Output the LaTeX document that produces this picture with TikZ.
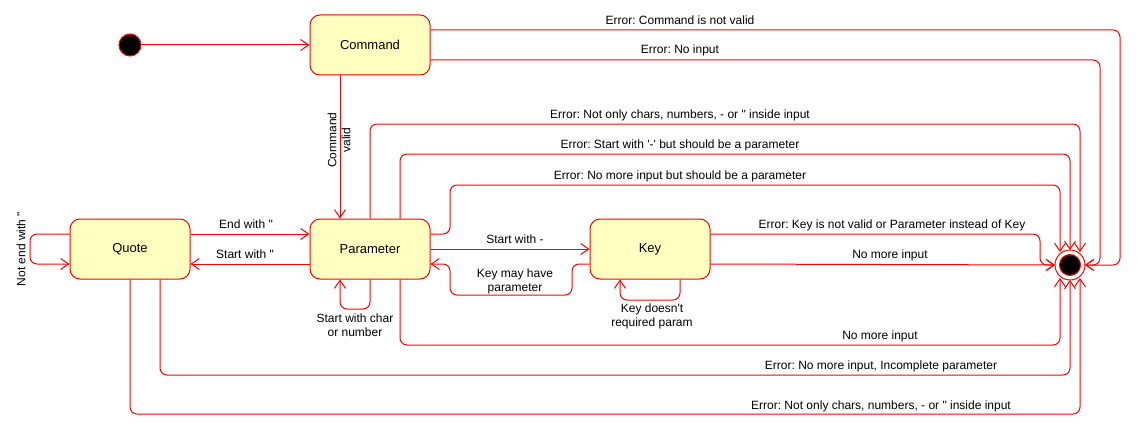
\documentclass[tikz,border=0pt]{standalone}
\usepackage{fontspec}
\setmainfont{Liberation Sans}
\setmonofont{Liberation Sans}
\usetikzlibrary{arrows.meta}
\definecolor{stfill}{HTML}{FFFFC0}
\definecolor{lred}{HTML}{FF0000}
\newcommand\dq{{\ttfamily\symbol{34}}}
\newcommand\sq{{\ttfamily\symbol{39}}}
\frenchspacing
\begin{document}
\begin{tikzpicture}[x=1pt,y=-1pt,
  state/.style={draw=lred,fill=stfill,line width=1pt,rounded corners=10pt,minimum width=120pt,minimum height=60pt,inner sep=0pt,font=\fontsize{13}{15}\selectfont},
  edge/.style={draw=lred,line width=1pt,rounded corners=7pt,-{Straight Barb[length=8pt,width=11pt]}},
  lab/.style={font=\fontsize{12}{14}\selectfont\frenchspacing,inner sep=0pt,align=center},
]
\useasboundingbox (0,0) rectangle (1141,436);
% nodes
\node[circle,draw=lred,fill=black,line width=1pt,minimum size=22pt,inner sep=0pt] (init) at (130,45) {};
\node[state] (cmd) at (370,45) {Command};
\node[state] (quote) at (130,249) {Quote};
\node[state] (param) at (370,249) {Parameter};
\node[state] (key) at (650,249) {Key};
\node[circle,draw=lred,fill=white,line width=1pt,minimum size=30pt,inner sep=0pt] (fin) at (1070,265) {};
\node[circle,draw=lred,fill=black,line width=1pt,minimum size=21pt,inner sep=0pt] (finin) at (fin) {};

% connector endpoints
\coordinate (fR) at (1085,265);
\coordinate (fL) at (1055,265);
\coordinate (fT1) at (1060,252);
\coordinate (fT2) at (1070,250);
\coordinate (fT3) at (1080,252);
\coordinate (fB1) at (1060,278);
\coordinate (fB2) at (1070,280);
\coordinate (fB3) at (1080,278);

% initial -> command
\draw[edge] (init) -- (cmd);
% command errors
\draw[edge] (cmd.east |- 0,30) -- (1120,30) -- (1120,265) -- (fR);
\draw[edge] (cmd.east |- 0,60) -- (1100,60) -- (1100,265) -- (fR);
% command valid
\draw[edge] (cmd.south -| 340,0) -- (param.north -| 340,0);
\node[lab,rotate=90] (lcv) at (339,140) {Command\\valid};
% parameter errors top
\draw[edge] (param.north -| 370,0) -- (370,124) -- (1080,124) -- (fT3);
\draw[edge] (param.north -| 400,0) -- (400,154) -- (1070,154) -- (fT2);
\draw[edge] (param.east |- 0,234) -- (450,234) -- (450,185) -- (1060,185) -- (fT1);
% parameter <-> key
\draw[edge] (param) -- (key);
\draw[edge] (key.west |- 0,264) -- (572,264) -- (572,295) -- (450,295) -- (450,264) -- (param.east |- 0,264);
% key self loop
\draw[edge] (key.south -| 680,0) -- (680,300) -- (620,300) -- (key.south -| 620,0);
% key -> final
\draw[edge] (key.east |- 0,234) -- (1040,234) -- (1040,265) -- (fL);
\draw[edge] (key.east |- 0,264) -- (fL);
% parameter bottom -> final
\draw[edge] (param.south -| 400,0) -- (400,345) -- (1060,345) -- (fB1);
% quote bottom -> final
\draw[edge] (quote.south -| 160,0) -- (160,375) -- (1070,375) -- (fB2);
\draw[edge] (quote.south -| 130,0) -- (130,414) -- (1080,414) -- (fB3);
% quote <-> parameter
\draw[edge] (quote.east |- 0,234) -- (param.west |- 0,234);
\draw[edge] (param.west |- 0,264) -- (quote.east |- 0,264);
% quote self loop
\draw[edge] (quote.west |- 0,234) -- (30,234) -- (30,264) -- (quote.west |- 0,264);
% parameter self loop
\draw[edge] (param.south -| 370,0) -- (370,309) -- (340,309) -- (param.south -| 340,0);

% labels
\node[lab] (l1) at (680,20) {Error: Command is not valid};
\node[lab] (l2) at (680,50) {Error: No input};
\node[lab] (l3) at (680,115) {Error: Not only chars, numbers, - or \dq{} inside input};
\node[lab] (l4) at (680,145) {Error: Start with \sq-\sq{} but should be a parameter};
\node[lab] (l5) at (680,176) {Error: No more input but should be a parameter};
\node[lab] (l6) at (515,239) {Start with -};
\node[lab] (l7) at (515,281) {Key may have\\parameter};
\node[lab] (l8) at (652,316) {Key doesn\sq t\\required param};
\node[lab] (l9) at (892,225) {Error: Key is not valid or Parameter instead of Key};
\node[lab] (l10) at (890,255) {No more input};
\node[lab] (l11) at (880,336) {No more input};
\node[lab] (l12) at (881,366) {Error: No more input, Incomplete parameter};
\node[lab] (l13) at (881,406) {Error: Not only chars, numbers, - or \dq{} inside input};
\node[lab] (l14) at (246,224) {End with \dq};
\node[lab] (l15) at (245,254) {Start with \dq};
\node[lab] (l16) at (355,325) {Start with char\\or number};
\node[lab,rotate=90] (l17) at (21,249) {Not end with \dq};
\end{tikzpicture}
\end{document}
